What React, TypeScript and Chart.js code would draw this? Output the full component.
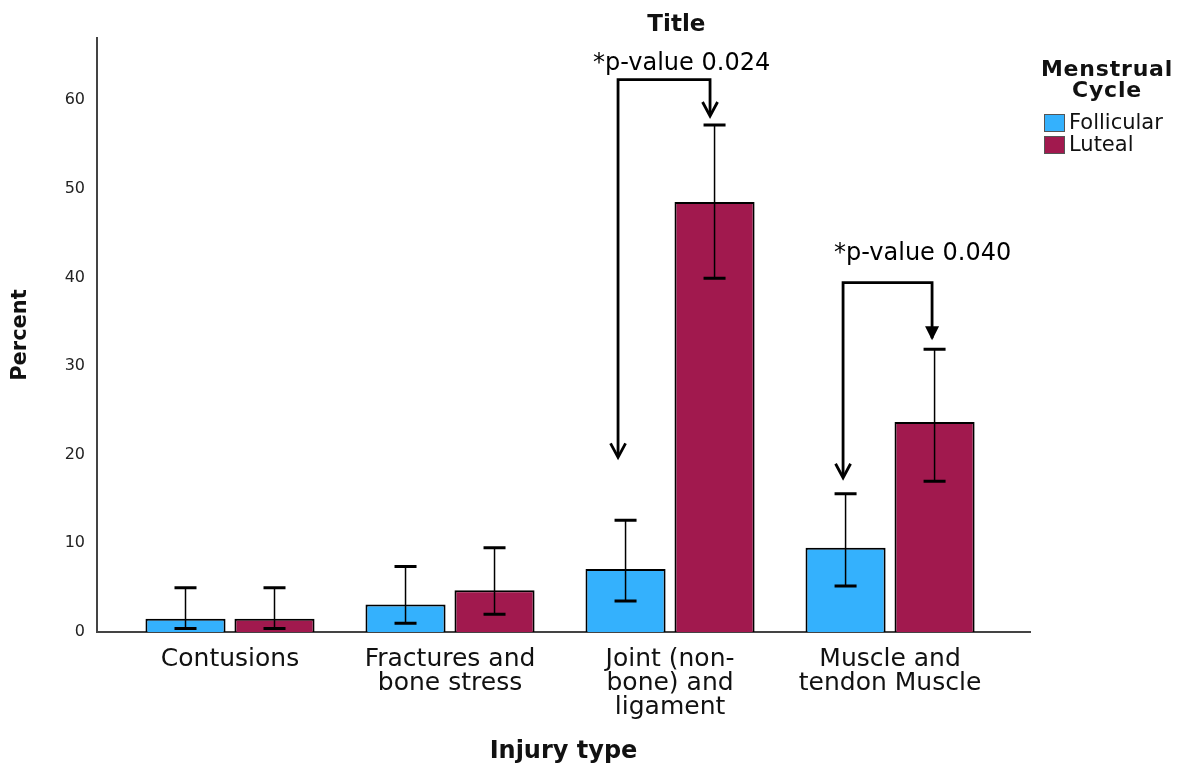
import React, { useEffect, useRef } from "react";
import { Chart, registerables } from "chart.js";

Chart.register(...registerables);

const categories: string[][] = [
  ["Contusions"],
  ["Fractures and", "bone stress"],
  ["Joint (non-", "bone) and", "ligament"],
  ["Muscle and", "tendon Muscle"],
];
const seriesNames = ["Follicular", "Luteal"];
const seriesColors = ["#34b1fd", "#a1194e"];
const follicular = [1.5, 3.1, 7.1, 9.5];
const luteal = [1.5, 4.7, 48.5, 23.7];
const follicularLow = [0.4, 1.0, 3.5, 5.2];
const follicularHigh = [5.0, 7.4, 12.6, 15.6];
const lutealLow = [0.4, 2.0, 39.9, 17.0];
const lutealHigh = [5.0, 9.5, 57.2, 31.9];
const yTicks = [0, 10, 20, 30, 40, 50, 60];
const annotationTexts = ["*p-value 0.024", "*p-value 0.040"];
const annotationCategory = [2, 3];
const annotationBracketY = [62.3, 39.4];
const annotationLeftTip = [19.7, 17.4];
const annotationRightTip = [58.2, 32.9];

const errLow = [follicularLow, lutealLow];
const errHigh = [follicularHigh, lutealHigh];
const seriesValues = [follicular, luteal];

const FONT = "'DejaVu Sans', Verdana, sans-serif";

const errorBarPlugin = {
  id: "errorBars",
  afterDatasetsDraw(chart: any) {
    const ctx = chart.ctx;
    const y = chart.scales.y;
    ctx.save();
    ctx.strokeStyle = "#000";
    seriesValues.forEach((_, di) => {
      const meta = chart.getDatasetMeta(di);
      meta.data.forEach((bar: any, i: number) => {
        const x = bar.x;
        const yl = y.getPixelForValue(errLow[di][i]);
        const yh = y.getPixelForValue(errHigh[di][i]);
        ctx.lineWidth = 1.5;
        ctx.beginPath();
        ctx.moveTo(x, yl);
        ctx.lineTo(x, yh);
        ctx.stroke();
        ctx.lineWidth = 3;
        ctx.beginPath();
        ctx.moveTo(x - 11, yl);
        ctx.lineTo(x + 11, yl);
        ctx.moveTo(x - 11, yh);
        ctx.lineTo(x + 11, yh);
        ctx.stroke();
      });
    });
    ctx.restore();
  },
};

function arrowHead(ctx: any, x: number, y: number, filled: boolean) {
  ctx.beginPath();
  if (filled) {
    ctx.moveTo(x - 7, y - 14);
    ctx.lineTo(x, y);
    ctx.lineTo(x + 7, y - 14);
    ctx.closePath();
    ctx.fill();
  } else {
    ctx.moveTo(x - 7.5, y - 14);
    ctx.lineTo(x, y);
    ctx.lineTo(x + 7.5, y - 14);
    ctx.stroke();
  }
}

const annotationPlugin = {
  id: "pAnnotations",
  afterDraw(chart: any) {
    const ctx = chart.ctx;
    const y = chart.scales.y;
    const area = chart.chartArea;
    ctx.save();
    ctx.strokeStyle = "#000";
    ctx.fillStyle = "#000";
    ctx.lineWidth = 2.8;
    ctx.lineJoin = "miter";
    annotationTexts.forEach((txt, k) => {
      const ci = annotationCategory[k];
      const xl = chart.getDatasetMeta(0).data[ci].x - (k === 0 ? 7.5 : 2.5);
      const xr = chart.getDatasetMeta(1).data[ci].x - (k === 0 ? 4.5 : 2.5);
      const yb = y.getPixelForValue(annotationBracketY[k]);
      const ylt = y.getPixelForValue(annotationLeftTip[k]);
      const yrt = y.getPixelForValue(annotationRightTip[k]);
      ctx.beginPath();
      ctx.moveTo(xl, ylt - 2);
      ctx.lineTo(xl, yb);
      ctx.lineTo(xr, yb);
      ctx.lineTo(xr, yrt - 2);
      ctx.stroke();
      arrowHead(ctx, xl, ylt, false);
      arrowHead(ctx, xr, yrt, k === 1);
      ctx.font = `24px ${FONT}`;
      ctx.textAlign = "left";
      ctx.textBaseline = "alphabetic";
      ctx.fillText(txt, xl - (k === 0 ? 25 : 9), yb - (k === 0 ? 10 : 23));
    });

    // Chart title
    ctx.font = `bold 23px ${FONT}`;
    ctx.textAlign = "center";
    ctx.textBaseline = "alphabetic";
    ctx.fillStyle = "#111";
    ctx.fillText("Title", area.left + (area.right - area.left) * 0.621, 23);

    // Legend
    const lx = area.right + 14;
    ctx.font = `bold 22px ${FONT}`;
    (ctx as any).letterSpacing = "0.8px";
    ctx.fillText("Menstrual", lx + 63, 68);
    ctx.fillText("Cycle", lx + 63, 89);
    (ctx as any).letterSpacing = "0px";
    ctx.font = `21px ${FONT}`;
    ctx.textAlign = "left";
    ctx.textBaseline = "middle";
    seriesNames.forEach((name, i) => {
      const by = 106 + i * 22;
      ctx.fillStyle = seriesColors[i];
      ctx.fillRect(lx, by, 21, 18);
      ctx.strokeStyle = "#555";
      ctx.lineWidth = 1;
      ctx.strokeRect(lx + 0.5, by + 0.5, 20, 17);
      ctx.fillStyle = "#111";
      ctx.fillText(name, lx + 25, by + 10);
    });
    ctx.restore();
  },
};

export default function App() {
  const ref = useRef<HTMLCanvasElement>(null);
  useEffect(() => {
    if (!ref.current) return;
    const chart = new Chart(ref.current, {
      type: "bar",
      data: {
        datasets: seriesNames.map((name, di) => ({
          label: name,
          data: seriesValues[di].map((v, i) => ({ x: i, y: v })),
          backgroundColor: seriesColors[di],
          borderColor: "#000",
          borderWidth: 2,
          categoryPercentage: 0.809,
          barPercentage: 0.9,
        })),
      },
      options: {
        animation: false,
        responsive: true,
        maintainAspectRatio: false,
        layout: { padding: { top: 30, right: 141, left: 0, bottom: 0 } },
        plugins: {
          legend: { display: false },
          tooltip: { enabled: false },
          title: { display: false },
        },
        scales: {
          x: {
            type: "linear",
            offset: false,
            min: -0.6045,
            max: 3.636,
            grid: { display: false, drawTicks: false, offset: false },
            border: { display: true, color: "#444", width: 2 },
            afterBuildTicks: (s: any) => {
              s.ticks = categories.map((_, i) => ({ value: i }));
            },
            afterFit: (s: any) => {
              s.height = 136;
            },
            ticks: {
              autoSkip: false,
              maxRotation: 0,
              minRotation: 0,
              padding: 15,
              color: "#111",
              font: { family: FONT, size: 25, lineHeight: 0.96 },
              callback: (v: any) => categories[Math.round(Number(v))] ?? "",
            },
            title: {
              display: true,
              text: "Injury type",
              color: "#111",
              font: { family: FONT, size: 24, weight: "bold" },
              padding: { top: 0, bottom: 2 },
            },
          },
          y: {
            min: 0,
            max: 67,
            grid: { display: false, drawTicks: false },
            border: { display: true, color: "#444", width: 2 },
            afterBuildTicks: (s: any) => {
              s.ticks = yTicks.map((v) => ({ value: v }));
            },
            afterFit: (s: any) => {
              s.width = 89;
            },
            ticks: {
              padding: 12,
              color: "#222",
              font: { family: FONT, size: 16 },
            },
            title: {
              display: true,
              text: "Percent",
              color: "#111",
              font: { family: FONT, size: 21, weight: "bold" },
              padding: { top: 0, bottom: 0 },
            },
          },
        },
      },
      plugins: [errorBarPlugin, annotationPlugin],
    });
    return () => chart.destroy();
  }, []);
  return (
    <div style={{ width: 1163, height: 760, position: "relative" }}>
      <canvas ref={ref} />
    </div>
  );
}
